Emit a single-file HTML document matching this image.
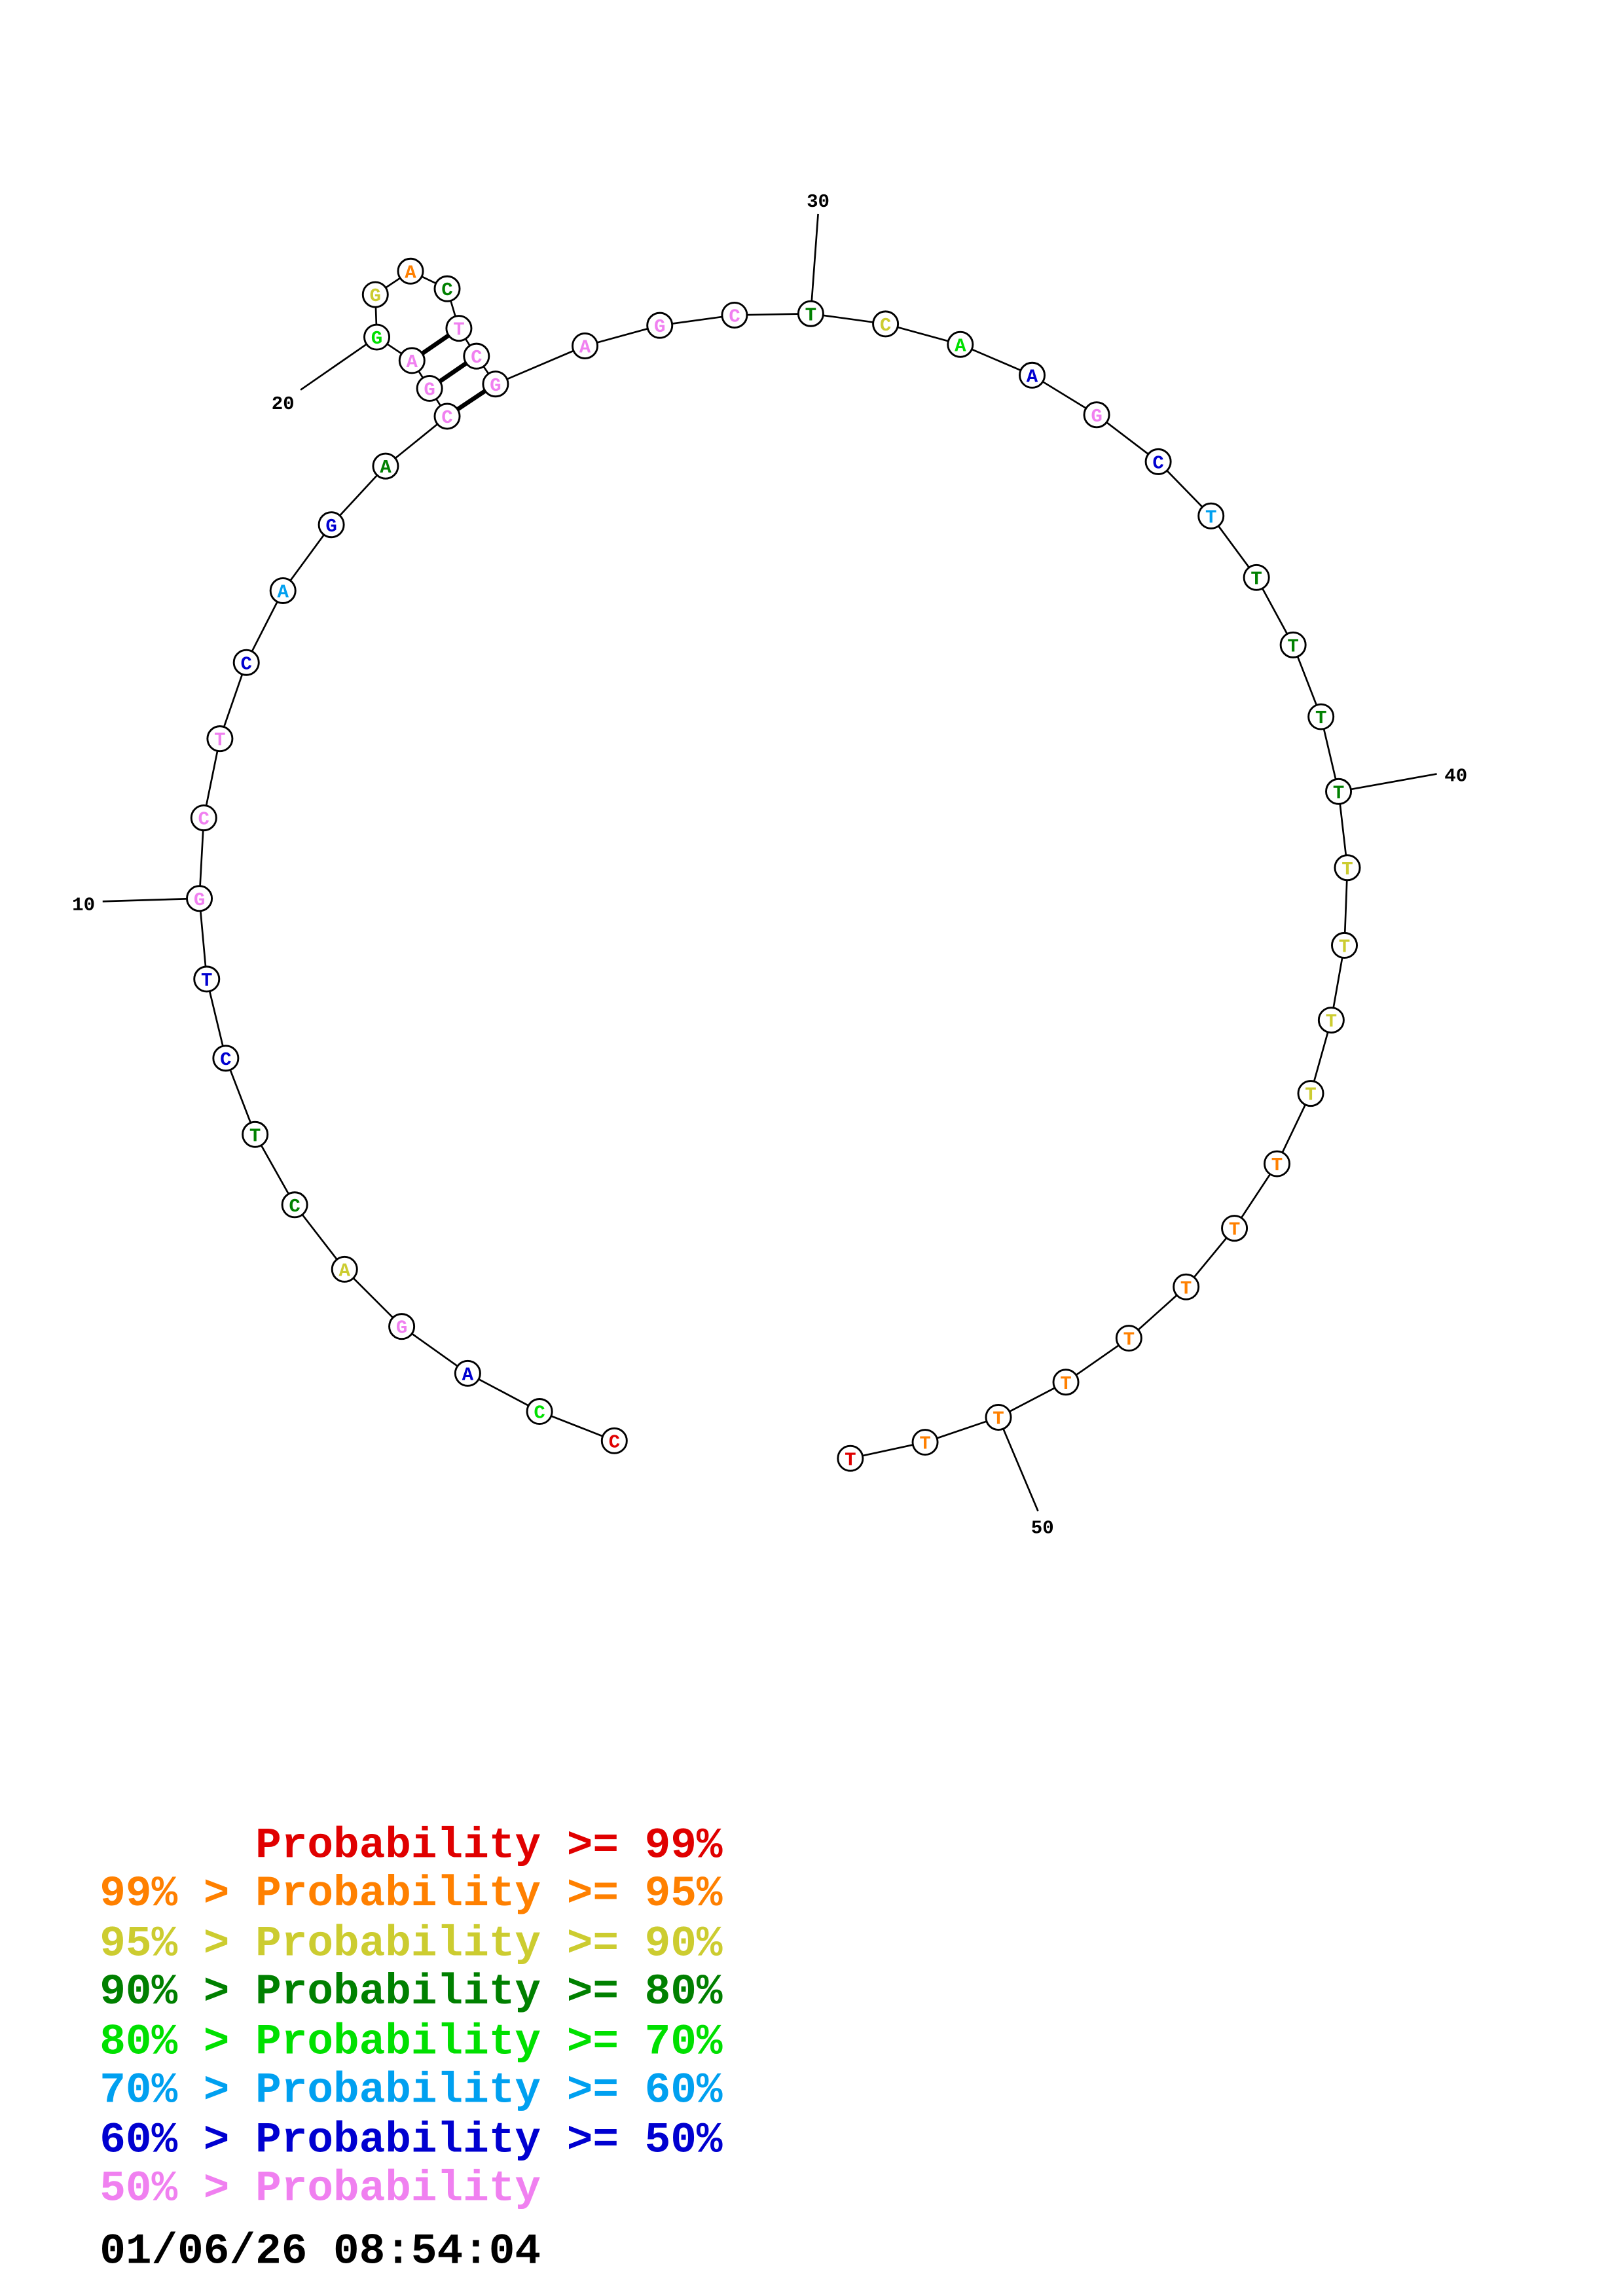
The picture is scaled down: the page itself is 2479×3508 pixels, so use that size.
<!DOCTYPE html>
<html><head><meta charset="utf-8"><style>html,body{margin:0;padding:0;background:#fff}svg{display:block}</style></head>
<body>
<svg width="2479" height="3508" viewBox="0 0 1107 1566.5" xmlns="http://www.w3.org/2000/svg">
<rect width="1107" height="1567" fill="#fff"/>
<g stroke="#000" stroke-width="1.2" fill="none">
<polyline points="419,983 368,963 319,937 274,905 235,866 201,822 174,774 154,722 141,668 136,613 139,558 150,504 168,452 193,403 226,358 263,318 305,284 293,265 281,246 257,230 256,201 280,185 305,197 313,224 325,243 338,262 399,236 450,222 501,215 553,214 604,221 655,235 704,256 748,283 790,315 826,352 857,394 882,440 901,489 913,540 919,592 917,645 908,696 894,746 871,794 842,838 809,878 770,913 727,943 681,967 631,984 580,995"/>
<line x1="136" y1="613" x2="70" y2="615"/>
<line x1="257" y1="230" x2="205" y2="266"/>
<line x1="553" y1="214" x2="558" y2="146"/>
<line x1="913" y1="540" x2="980" y2="528"/>
<line x1="681" y1="967" x2="708" y2="1031"/>
</g>
<g stroke="#000" stroke-width="3">
<line x1="305" y1="284" x2="338" y2="262"/>
<line x1="293" y1="265" x2="325" y2="243"/>
<line x1="281" y1="246" x2="313" y2="224"/>
</g>
<g font-family="Liberation Mono, monospace" font-weight="bold" font-size="13" fill="#000">
<text x="57" y="621" text-anchor="middle">10</text>
<text x="193" y="279" text-anchor="middle">20</text>
<text x="558" y="141" text-anchor="middle">30</text>
<text x="993" y="533" text-anchor="middle">40</text>
<text x="711" y="1046" text-anchor="middle">50</text>
</g>
<g stroke="#000" stroke-width="1.3" fill="#fff">
<circle cx="419" cy="983" r="8.5"/><circle cx="368" cy="963" r="8.5"/><circle cx="319" cy="937" r="8.5"/><circle cx="274" cy="905" r="8.5"/><circle cx="235" cy="866" r="8.5"/><circle cx="201" cy="822" r="8.5"/><circle cx="174" cy="774" r="8.5"/><circle cx="154" cy="722" r="8.5"/><circle cx="141" cy="668" r="8.5"/><circle cx="136" cy="613" r="8.5"/><circle cx="139" cy="558" r="8.5"/><circle cx="150" cy="504" r="8.5"/><circle cx="168" cy="452" r="8.5"/><circle cx="193" cy="403" r="8.5"/><circle cx="226" cy="358" r="8.5"/><circle cx="263" cy="318" r="8.5"/><circle cx="305" cy="284" r="8.5"/><circle cx="293" cy="265" r="8.5"/><circle cx="281" cy="246" r="8.5"/><circle cx="257" cy="230" r="8.5"/><circle cx="256" cy="201" r="8.5"/><circle cx="280" cy="185" r="8.5"/><circle cx="305" cy="197" r="8.5"/><circle cx="313" cy="224" r="8.5"/><circle cx="325" cy="243" r="8.5"/><circle cx="338" cy="262" r="8.5"/><circle cx="399" cy="236" r="8.5"/><circle cx="450" cy="222" r="8.5"/><circle cx="501" cy="215" r="8.5"/><circle cx="553" cy="214" r="8.5"/><circle cx="604" cy="221" r="8.5"/><circle cx="655" cy="235" r="8.5"/><circle cx="704" cy="256" r="8.5"/><circle cx="748" cy="283" r="8.5"/><circle cx="790" cy="315" r="8.5"/><circle cx="826" cy="352" r="8.5"/><circle cx="857" cy="394" r="8.5"/><circle cx="882" cy="440" r="8.5"/><circle cx="901" cy="489" r="8.5"/><circle cx="913" cy="540" r="8.5"/><circle cx="919" cy="592" r="8.5"/><circle cx="917" cy="645" r="8.5"/><circle cx="908" cy="696" r="8.5"/><circle cx="894" cy="746" r="8.5"/><circle cx="871" cy="794" r="8.5"/><circle cx="842" cy="838" r="8.5"/><circle cx="809" cy="878" r="8.5"/><circle cx="770" cy="913" r="8.5"/><circle cx="727" cy="943" r="8.5"/><circle cx="681" cy="967" r="8.5"/><circle cx="631" cy="984" r="8.5"/><circle cx="580" cy="995" r="8.5"/>
</g>
<g font-family="Liberation Mono, monospace" font-weight="bold" font-size="13" text-anchor="middle">
<text x="419" y="987.5" fill="#e00000">C</text>
<text x="368" y="967.5" fill="#00e000">C</text>
<text x="319" y="941.5" fill="#0000d0">A</text>
<text x="274" y="909.5" fill="#f080f0">G</text>
<text x="235" y="870.5" fill="#cccc30">A</text>
<text x="201" y="826.5" fill="#008000">C</text>
<text x="174" y="778.5" fill="#008000">T</text>
<text x="154" y="726.5" fill="#0000d0">C</text>
<text x="141" y="672.5" fill="#0000d0">T</text>
<text x="136" y="617.5" fill="#f080f0">G</text>
<text x="139" y="562.5" fill="#f080f0">C</text>
<text x="150" y="508.5" fill="#f080f0">T</text>
<text x="168" y="456.5" fill="#0000d0">C</text>
<text x="193" y="407.5" fill="#00a0f0">A</text>
<text x="226" y="362.5" fill="#0000d0">G</text>
<text x="263" y="322.5" fill="#008000">A</text>
<text x="305" y="288.5" fill="#f080f0">C</text>
<text x="293" y="269.5" fill="#f080f0">G</text>
<text x="281" y="250.5" fill="#f080f0">A</text>
<text x="257" y="234.5" fill="#00e000">G</text>
<text x="256" y="205.5" fill="#cccc30">G</text>
<text x="280" y="189.5" fill="#ff8000">A</text>
<text x="305" y="201.5" fill="#008000">C</text>
<text x="313" y="228.5" fill="#f080f0">T</text>
<text x="325" y="247.5" fill="#f080f0">C</text>
<text x="338" y="266.5" fill="#f080f0">G</text>
<text x="399" y="240.5" fill="#f080f0">A</text>
<text x="450" y="226.5" fill="#f080f0">G</text>
<text x="501" y="219.5" fill="#f080f0">C</text>
<text x="553" y="218.5" fill="#008000">T</text>
<text x="604" y="225.5" fill="#cccc30">C</text>
<text x="655" y="239.5" fill="#00e000">A</text>
<text x="704" y="260.5" fill="#0000d0">A</text>
<text x="748" y="287.5" fill="#f080f0">G</text>
<text x="790" y="319.5" fill="#0000d0">C</text>
<text x="826" y="356.5" fill="#00a0f0">T</text>
<text x="857" y="398.5" fill="#008000">T</text>
<text x="882" y="444.5" fill="#008000">T</text>
<text x="901" y="493.5" fill="#008000">T</text>
<text x="913" y="544.5" fill="#008000">T</text>
<text x="919" y="596.5" fill="#cccc30">T</text>
<text x="917" y="649.5" fill="#cccc30">T</text>
<text x="908" y="700.5" fill="#cccc30">T</text>
<text x="894" y="750.5" fill="#cccc30">T</text>
<text x="871" y="798.5" fill="#ff8000">T</text>
<text x="842" y="842.5" fill="#ff8000">T</text>
<text x="809" y="882.5" fill="#ff8000">T</text>
<text x="770" y="917.5" fill="#ff8000">T</text>
<text x="727" y="947.5" fill="#ff8000">T</text>
<text x="681" y="971.5" fill="#ff8000">T</text>
<text x="631" y="988.5" fill="#ff8000">T</text>
<text x="580" y="999.5" fill="#e00000">T</text>
</g>
<g font-family="Liberation Mono, monospace" font-weight="bold" font-size="29.5">
<text x="174.2" y="1267" fill="#e00000">Probability &gt;= 99%</text>
<text x="68" y="1300" fill="#ff8000">99% &gt; Probability &gt;= 95%</text>
<text x="68" y="1334" fill="#cccc30">95% &gt; Probability &gt;= 90%</text>
<text x="68" y="1367" fill="#008000">90% &gt; Probability &gt;= 80%</text>
<text x="68" y="1401" fill="#00e000">80% &gt; Probability &gt;= 70%</text>
<text x="68" y="1434" fill="#00a0f0">70% &gt; Probability &gt;= 60%</text>
<text x="68" y="1468" fill="#0000d0">60% &gt; Probability &gt;= 50%</text>
<text x="68" y="1501" fill="#f080f0">50% &gt; Probability</text>
<text x="68" y="1544" fill="#000">01/06/26 08:54:04</text>
</g>
</svg>
</body></html>
